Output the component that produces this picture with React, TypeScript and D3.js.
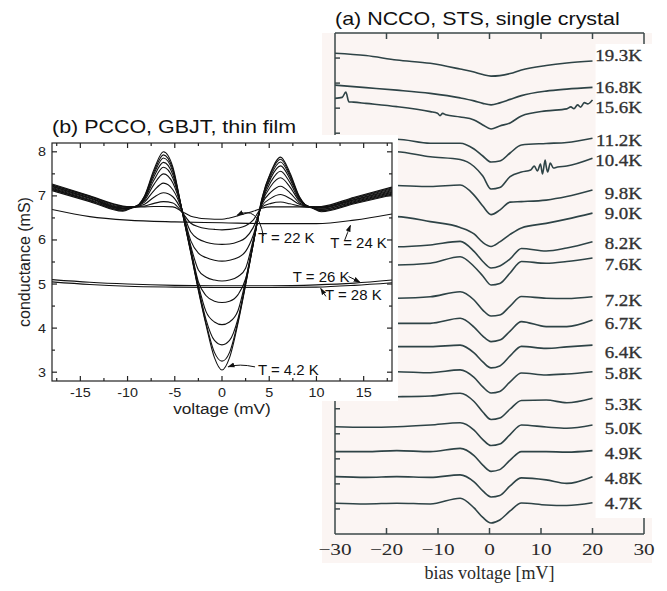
import React from "react";
import * as d3 from "d3";

// ---------- panel (a): NCCO, STS, single crystal (offset spectra) ----------
const biasA = [-30, -24, -18, -11.5, -5.7, -3, -1.3, 0.3, 2, 4, 6.2, 11, 15, 20];
const tempsA = ["19.3K", "16.8K", "15.6K", "11.2K", "10.4K", "9.8K", "9.0K", "8.2K", "7.6K",
  "7.2K", "6.7K", "6.4K", "5.8K", "5.3K", "5.0K", "4.9K", "4.8K", "4.7K"];
const spectraA = [
  [19.19, 19.1, 18.92, 18.79, 18.56, 18.44, 18.34, 18.28, 18.3, 18.38, 18.52, 18.7, 18.8, 18.88],
  [17.92, 17.82, 17.72, 17.59, 17.41, 17.29, 17.19, 17.13, 17.21, 17.35, 17.5, 17.68, 17.76, 17.83],
  [17.39, 17.19, 17.06, 16.86, 16.65, 16.53, 16.33, 16.17, 16.29, 16.41, 16.69, 16.89, 16.97, 17.33],
  [15.73, 15.73, 15.76, 15.6, 15.6, 15.37, 15.09, 14.85, 14.89, 15.21, 15.53, 15.59, 15.63, 15.8],
  [15.33, 15.29, 15.26, 15.06, 14.95, 14.67, 14.29, 13.77, 13.83, 14.27, 14.45, 14.69, 14.69, 15.0],
  [13.93, 13.93, 13.91, 13.87, 13.93, 13.53, 13.09, 12.75, 12.93, 13.25, 13.27, 13.33, 13.47, 13.73],
  [12.73, 12.69, 12.67, 12.47, 12.24, 11.98, 11.64, 11.48, 11.66, 11.96, 12.22, 12.4, 12.57, 12.81],
  [11.5, 11.48, 11.47, 11.54, 11.68, 11.28, 10.88, 10.62, 10.7, 10.98, 11.4, 11.3, 11.42, 11.67],
  [10.74, 10.74, 10.74, 10.81, 11.07, 10.68, 10.3, 9.94, 10.0, 10.42, 10.88, 10.81, 10.88, 11.02],
  [9.4, 9.4, 9.41, 9.47, 9.67, 9.34, 8.94, 8.7, 8.74, 9.1, 9.48, 9.41, 9.4, 9.47],
  [8.4, 8.4, 8.41, 8.41, 8.61, 8.26, 7.9, 7.68, 7.74, 8.1, 8.48, 8.28, 8.28, 8.54],
  [7.47, 7.47, 7.48, 7.48, 7.54, 7.23, 6.87, 6.63, 6.71, 7.11, 7.49, 7.41, 7.47, 7.54],
  [6.47, 6.47, 6.48, 6.44, 6.55, 6.25, 5.87, 5.63, 5.69, 6.07, 6.43, 6.35, 6.39, 6.48],
  [5.47, 5.47, 5.48, 5.51, 5.62, 5.29, 4.87, 4.57, 4.63, 4.99, 5.33, 5.35, 5.24, 5.42],
  [4.28, 4.26, 4.28, 4.35, 4.44, 4.15, 3.77, 3.53, 3.59, 3.97, 4.35, 4.27, 4.22, 4.35],
  [3.29, 3.29, 3.33, 3.29, 3.42, 3.13, 2.75, 2.5, 2.57, 2.95, 3.29, 3.29, 3.27, 3.33],
  [2.29, 2.26, 2.29, 2.26, 2.36, 2.08, 1.72, 1.48, 1.54, 1.92, 2.24, 2.16, 2.02, 2.29],
  [1.23, 1.2, 1.23, 1.2, 1.43, 1.04, 0.66, 0.44, 0.56, 0.92, 1.24, 1.16, 1.14, 1.25],
];
const labelLevelsA = [19.12, 17.84, 17.05, 15.73, 14.93, 13.61, 12.81, 11.62, 10.78, 9.34,
  8.42, 7.27, 6.43, 5.19, 4.23, 3.23, 2.24, 1.24];
// extra noisy bits of a few traces
const glitchesA: Record<string, [number, number][]> = {
  "15.6K": [[-28.6, 17.43], [-27.9, 17.64], [-27.3, 17.25], [-26.4, 17.24], [-10.1, 16.8],
    [-9.6, 16.7], [-9.1, 16.79], [-8.5, 16.74], [15.8, 17.05], [16.4, 16.98], [17.1, 17.13],
    [17.7, 17.04], [18.4, 17.22], [19.1, 17.17]],
  "10.4K": [[8.0, 14.53], [8.7, 14.69], [9.3, 14.49], [9.9, 14.77], [10.3, 14.37], [10.8, 14.93],
    [11.3, 14.45], [11.8, 14.81], [12.4, 14.61], [13.2, 14.65]],
};
const ticksA = [-30, -20, -10, 0, 10, 20, 30];

// ---------- panel (b): PCCO, GBJT, thin film ----------
const voltsB = [-18, -14, -10.5, -9.3, -8.2, -7.2, -6.2, -5.2, -4.2, -3.3, -2.5, -1.7, -0.8, 0,
  0.8, 1.7, 2.5, 3.3, 4.2, 5.2, 6.2, 7.2, 8.2, 9.3, 10.5, 14, 18];
// gap curves from T = 4.2 K (first) up to T = 22 K (last)
const gapCurvesB = [
  [7.27, 7.0, 6.77, 6.75, 7.0, 7.6, 8.0, 7.65, 6.62, 5.7, 4.85, 4.08, 3.33, 3.05, 3.33, 4.12, 4.98, 5.9, 6.92, 7.56, 7.88, 7.52, 6.98, 6.75, 6.76, 6.97, 7.2],
  [7.25, 6.99, 6.76, 6.75, 6.99, 7.55, 7.93, 7.6, 6.63, 5.72, 4.88, 4.12, 3.45, 3.25, 3.45, 4.16, 5.0, 5.9, 6.9, 7.53, 7.83, 7.48, 6.97, 6.75, 6.75, 6.95, 7.18],
  [7.24, 6.98, 6.75, 6.75, 6.97, 7.5, 7.86, 7.55, 6.64, 5.74, 4.92, 4.2, 3.72, 3.62, 3.72, 4.22, 5.02, 5.9, 6.88, 7.48, 7.77, 7.44, 6.95, 6.75, 6.74, 6.94, 7.16],
  [7.22, 6.96, 6.73, 6.75, 6.95, 7.44, 7.76, 7.48, 6.65, 5.76, 4.98, 4.38, 4.14, 4.08, 4.14, 4.4, 5.08, 5.92, 6.86, 7.42, 7.68, 7.38, 6.94, 6.75, 6.73, 6.92, 7.14],
  [7.21, 6.95, 6.72, 6.75, 6.93, 7.36, 7.65, 7.4, 6.66, 5.8, 5.05, 4.74, 4.61, 4.58, 4.61, 4.76, 5.12, 5.95, 6.84, 7.33, 7.56, 7.3, 6.91, 6.75, 6.72, 6.91, 7.12],
  [7.19, 6.94, 6.71, 6.75, 6.9, 7.26, 7.5, 7.29, 6.66, 5.86, 5.32, 5.16, 5.09, 5.07, 5.09, 5.17, 5.36, 6.0, 6.82, 7.23, 7.41, 7.2, 6.88, 6.75, 6.7, 6.89, 7.1],
  [7.17, 6.92, 6.7, 6.75, 6.86, 7.12, 7.29, 7.14, 6.66, 5.98, 5.7, 5.6, 5.54, 5.52, 5.54, 5.6, 5.74, 6.1, 6.8, 7.09, 7.22, 7.07, 6.84, 6.75, 6.69, 6.87, 7.08],
  [7.15, 6.9, 6.68, 6.75, 6.81, 6.97, 7.07, 6.98, 6.64, 6.18, 6.02, 5.95, 5.91, 5.9, 5.91, 5.96, 6.05, 6.28, 6.76, 6.95, 7.03, 6.94, 6.81, 6.75, 6.67, 6.85, 7.06],
  [7.14, 6.89, 6.67, 6.75, 6.77, 6.83, 6.87, 6.84, 6.62, 6.38, 6.3, 6.26, 6.24, 6.23, 6.24, 6.27, 6.32, 6.45, 6.74, 6.83, 6.86, 6.82, 6.77, 6.75, 6.66, 6.84, 7.04],
  [7.12, 6.87, 6.65, 6.74, 6.75, 6.76, 6.76, 6.75, 6.64, 6.54, 6.5, 6.48, 6.47, 6.47, 6.5, 6.55, 6.6, 6.65, 6.72, 6.75, 6.75, 6.75, 6.75, 6.74, 6.64, 6.82, 7.02],
];
const voltsFlatB = [-18, -14, -10, -5, 0, 5, 10, 14, 18];
const curve24K = [6.69, 6.53, 6.45, 6.41, 6.39, 6.37, 6.37, 6.45, 6.59];
const curve26K = [5.1, 5.04, 5.0, 4.97, 4.96, 4.96, 4.98, 5.02, 5.09];
const curve28K = [5.05, 4.99, 4.95, 4.93, 4.92, 4.92, 4.93, 4.97, 5.03];

const notesB = [
  { text: "T = 22 K", v: 3.8, g: 5.92 },
  { text: "T = 24 K", v: 11.45, g: 5.82 },
  { text: "T = 26 K", v: 7.5, g: 5.05 },
  { text: "T = 28 K", v: 10.9, g: 4.64 },
  { text: "T = 4.2 K", v: 3.8, g: 2.93 },
];
const arrowsB = [
  { from: [4.38, 6.09], ctrl: [3.8, 6.8], to: [1.6, 6.56] },
  { from: [13.0, 6.0], ctrl: [13.3, 6.17], to: [13.6, 6.33] },
  { from: [13.4, 5.17], ctrl: [14.0, 5.11], to: [14.6, 5.04] },
  { from: [11.0, 4.72], ctrl: [10.72, 4.81], to: [10.45, 4.9] },
  { from: [3.5, 3.12], ctrl: [1.8, 3.2], to: [0.65, 3.12] },
];

const W = 667;
const H = 591;
const boxA = { left: 335, right: 644, top: 33, bottom: 534 };
const boxB = { left: 52, right: 392, top: 143, bottom: 381 };

function SText({ x, y, sx = 1, children, ...rest }: any) {
  return (
    <text transform={`translate(${x},${y}) scale(${sx},1)`} {...rest}>
      {children}
    </text>
  );
}

export default function App() {
  const xA = d3.scaleLinear().domain([-30, 30]).range([boxA.left, boxA.right]);
  const yA = d3.scaleLinear().domain([0, 20]).range([boxA.bottom, boxA.top]);
  const xB = d3.scaleLinear().domain([-18, 18]).range([boxB.left, boxB.right]);
  const yB = d3.scaleLinear().domain([2.8, 8.2]).range([boxB.bottom, boxB.top]);

  const lineA = d3
    .line<[number, number]>()
    .x((d) => xA(d[0]))
    .y((d) => yA(d[1]))
    .curve(d3.curveMonotoneX);
  const lineB = d3
    .line<[number, number]>()
    .x((d) => xB(d[0]))
    .y((d) => yB(d[1]))
    .curve(d3.curveMonotoneX);

  const tracesA = spectraA.map((vals, i) => {
    const pts: [number, number][] = biasA.map((v, j) => [v, vals[j]]);
    const extra = glitchesA[tempsA[i]] || [];
    return pts.concat(extra).sort((a, b) => a[0] - b[0]);
  });

  const inkA = "#2e4346";
  const sansFont = "'Liberation Sans', Arial, Helvetica, sans-serif";
  const serifFont = "'Liberation Serif', 'Times New Roman', serif";

  const xMinorB = d3.range(-17.5, 18, 2.5);
  const yMinorB = d3.range(3, 8.01, 0.5);

  return (
    <svg width={W} height={H} style={{ position: "absolute", left: 0, top: 0, background: "#fff" }}>
      <defs>
        <marker id="headB" viewBox="0 0 10 10" refX="9" refY="5" markerWidth="7" markerHeight="7" orient="auto">
          <path d="M0,1.5 L10,5 L0,8.5 z" fill="#111" />
        </marker>
        <clipPath id="clipB">
          <rect x={boxB.left} y={boxB.top} width={boxB.right - boxB.left} height={boxB.bottom - boxB.top} />
        </clipPath>
      </defs>

      {/* ---------------- panel (a) ---------------- */}
      <text x={boxA.left} y={25} fontFamily={sansFont} fontSize={18.5} fill="#111"
        transform={`translate(${boxA.left},0) scale(1.16,1) translate(${-boxA.left},0)`}>
        (a) NCCO, STS, single crystal
      </text>
      <rect x={322} y={boxA.top} width={330} height={530} fill="#fbf5f3" />

      <g fill="none" stroke={inkA} strokeWidth={1.6} strokeLinejoin="round">
        {tracesA.map((pts, i) => (
          <path key={tempsA[i]} d={lineA(pts) || ""} />
        ))}
      </g>

      {/* axes of (a) */}
      <g stroke="#3b4749" strokeWidth={1.5}>
        <line x1={boxA.left} x2={boxA.right} y1={boxA.top} y2={boxA.top} />
        <line x1={boxA.left} x2={boxA.right} y1={boxA.bottom} y2={boxA.bottom} />
        <line x1={boxA.left} x2={boxA.left} y1={boxA.top} y2={boxA.bottom} />
        <line x1={boxA.right} x2={boxA.right} y1={boxA.top} y2={boxA.bottom} />
        {ticksA.slice(1, -1).map((t) => (
          <g key={"ta" + t}>
            <line x1={xA(t)} x2={xA(t)} y1={boxA.top} y2={boxA.top + 6} />
            <line x1={xA(t)} x2={xA(t)} y1={boxA.bottom} y2={boxA.bottom - 6} />
          </g>
        ))}
        {d3.range(1, 20).map((t) => (
          <line key={"ya" + t} x1={boxA.left} x2={boxA.left + 5} y1={yA(t)} y2={yA(t)} />
        ))}
      </g>

      {/* temperature labels of (a) on a white strip */}
      <rect x={xA(20.6)} y={44} width={652 - xA(20.6)} height={474} fill="#fff" />
      <g fontFamily={serifFont} fontSize={17.5} fill="#333" stroke="#333" strokeWidth={0.35}>
        {tempsA.map((t, i) => (
          <SText key={"la" + t} x={xA(29.6)} y={yA(labelLevelsA[i]) + 6} sx={1.08} textAnchor="end">
            {t}
          </SText>
        ))}
      </g>
      <g fontFamily={serifFont} fontSize={17} fill="#2a2a2a">
        {ticksA.map((t) => (
          <SText key={"xa" + t} x={xA(t)} y={555} sx={1.25} textAnchor="middle">
            {t < 0 ? "\u2212" + Math.abs(t) : String(t)}
          </SText>
        ))}
        <text x={xA(0)} y={579} fontSize={18} textAnchor="middle">
          bias voltage [mV]
        </text>
      </g>

      {/* ---------------- panel (b) ---------------- */}
      <rect x={0} y={135} width={398} height={266} fill="#fff" />
      <text x={boxB.left} y={133} fontFamily={sansFont} fontSize={18.5} fill="#111"
        transform={`translate(${boxB.left},0) scale(1.16,1) translate(${-boxB.left},0)`}>
        (b) PCCO, GBJT, thin film
      </text>

      <g clipPath="url(#clipB)" fill="none" stroke="#111" strokeWidth={1.1}>
        {gapCurvesB.map((vals, i) => (
          <path key={"gb" + i} d={lineB(voltsB.map((v, j) => [v, vals[j]] as [number, number])) || ""} />
        ))}
        {[curve24K, curve26K, curve28K].map((vals, i) => (
          <path key={"fb" + i} d={lineB(voltsFlatB.map((v, j) => [v, vals[j]] as [number, number])) || ""} />
        ))}
      </g>

      {/* axes of (b) */}
      <g stroke="#222" strokeWidth={1.2}>
        <rect x={boxB.left} y={boxB.top} width={boxB.right - boxB.left} height={boxB.bottom - boxB.top} fill="none" />
        {xMinorB.map((t) => {
          const len = Math.abs(t % 5) < 1e-6 ? 5 : 3;
          return (
            <g key={"xb" + t}>
              <line x1={xB(t)} x2={xB(t)} y1={boxB.bottom} y2={boxB.bottom - len} />
              <line x1={xB(t)} x2={xB(t)} y1={boxB.top} y2={boxB.top + len} />
            </g>
          );
        })}
        {yMinorB.map((t) => {
          const len = Math.abs(t % 1) < 1e-6 ? 5 : 3;
          return (
            <g key={"yb" + t}>
              <line x1={boxB.left} x2={boxB.left + len} y1={yB(t)} y2={yB(t)} />
              <line x1={boxB.right} x2={boxB.right - len} y1={yB(t)} y2={yB(t)} />
            </g>
          );
        })}
      </g>
      <g fontFamily={sansFont} fontSize={12.5} fill="#222">
        {[-15, -10, -5, 0, 5, 10, 15].map((t) => (
          <SText key={"xlb" + t} x={xB(t)} y={397} sx={1.15} textAnchor="middle">
            {String(t)}
          </SText>
        ))}
        {[3, 4, 5, 6, 7, 8].map((t) => (
          <SText key={"ylb" + t} x={46} y={yB(t) + 4.5} sx={1.15} textAnchor="end">
            {String(t)}
          </SText>
        ))}
      </g>
      <SText x={xB(0)} y={414} sx={1.15} textAnchor="middle" fontFamily={sansFont} fontSize={15} fill="#222">
        voltage (mV)
      </SText>
      <text transform={`translate(30,${(boxB.top + boxB.bottom) / 2}) rotate(-90)`} textAnchor="middle"
        fontFamily={sansFont} fontSize={16} fill="#222">
        conductance (mS)
      </text>

      {/* annotations of (b) */}
      <g fontFamily={sansFont} fontSize={14} fill="#111">
        {notesB.map((n) => (
          <SText key={n.text} x={xB(n.v)} y={yB(n.g)} sx={1.07}>
            {n.text}
          </SText>
        ))}
      </g>
      <g fill="none" stroke="#111" strokeWidth={1}>
        {arrowsB.map((a, i) => {
          const p = d3.path();
          p.moveTo(xB(a.from[0]), yB(a.from[1]));
          p.quadraticCurveTo(xB(a.ctrl[0]), yB(a.ctrl[1]), xB(a.to[0]), yB(a.to[1]));
          return <path key={"ar" + i} d={p.toString()} markerEnd="url(#headB)" />;
        })}
      </g>
    </svg>
  );
}
